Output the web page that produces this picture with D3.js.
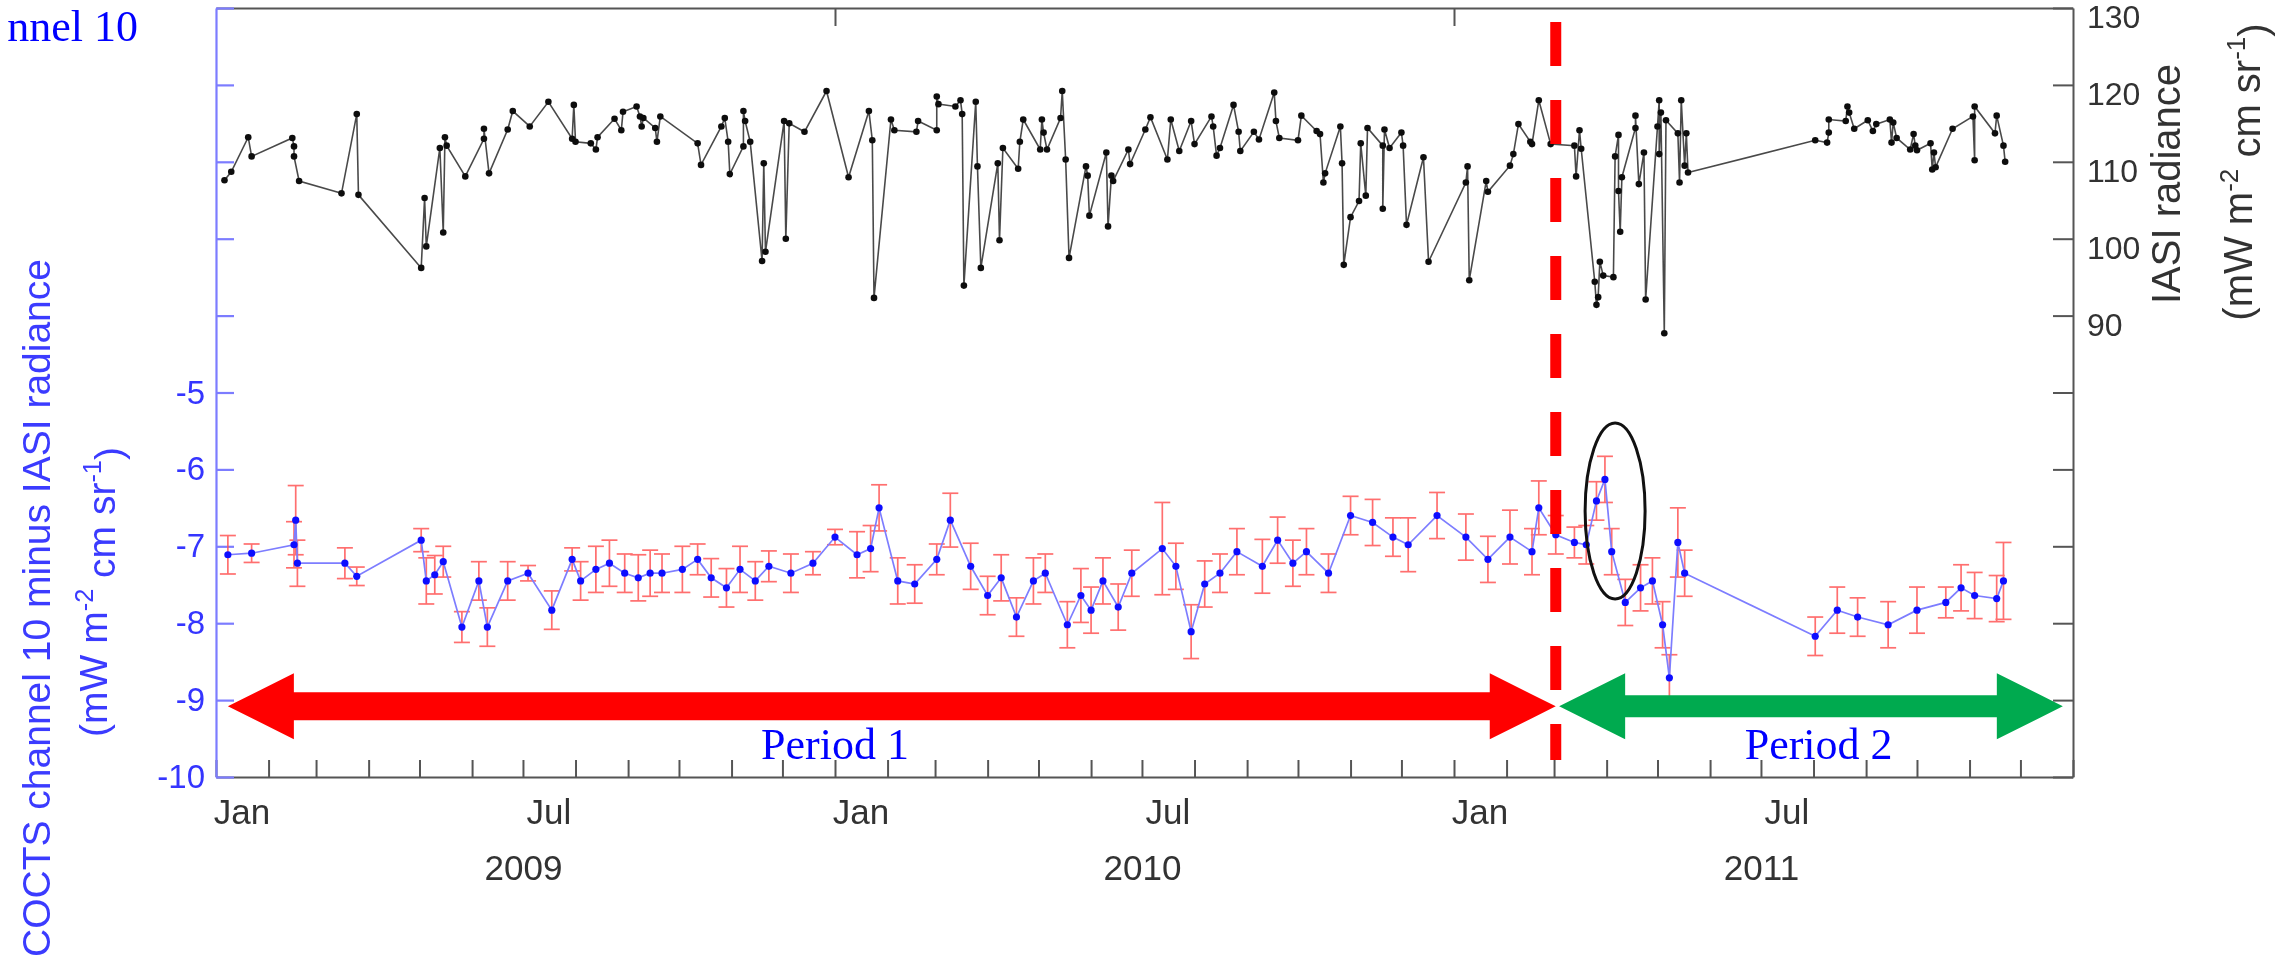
<!DOCTYPE html>
<html><head><meta charset="utf-8">
<script src="https://cdn.jsdelivr.net/npm/d3@7"></script>
<style>html,body{margin:0;padding:0;background:#fff;overflow:hidden}</style>
</head><body>
<svg id="chart" width="2277" height="968"></svg>
<script>
// IASI channel-10 equivalent radiance, days counted from 2009-01-01
const iasiDay = [5,9,19,21,45,46,46,49,74,83,84,121,123,124,132,134,135,136,147,158,158,161,172,175,185,196,210,211,212,221,224,225,235,239,240,248,250,251,252,259,260,262,284,286,298,300,302,303,
311,311,312,315,322,323,324,335,336,338,347,360,373,385,387,388,398,400,413,414,425,425,426,436,439,440,441,448,449,451,461,462,464,473,474,476,486,487,488,490,498,499,501,503,513,514,515,525,526,528,529,538,539,548,551,561,563,568,575,577,587,588,590,592,600,603,604,612,
615,624,625,627,638,640,649,651,653,654,663,664,665,669,674,675,678,679,688,688,689,692,699,700,702,712,715,737,738,739,749,750,763,765,768,775,776,780,787,801,802,804,805,813,814,815,816,818,824,825,827,827,828,829,837,837,839,842,843,850,851,851,852,854,855,862,863,864,866,867,868,
943,950,951,951,961,962,963,966,974,977,979,987,988,989,991,999,1001,1002,1003,1011,1012,1013,1014,1024,1036,1037,1037,1049,1050,1054,1055];
const iasiRad = [107.6,108.7,113.2,110.7,113.1,112.0,110.7,107.5,105.9,116.2,105.7,96.2,105.3,99.0,111.8,100.8,113.2,112.1,108.1,113.0,114.3,108.5,114.2,116.6,114.6,117.8,113.0,117.4,112.6,112.4,111.6,113.2,115.6,114.1,116.5,117.2,115.9,114.6,115.7,114.4,112.6,115.9,112.4,109.6,114.6,115.7,112.6,108.4,
112.0,116.6,115.3,112.6,97.1,109.8,98.3,115.3,100.0,115.0,113.9,119.2,108.0,116.6,112.8,92.3,115.5,114.1,113.9,115.3,114.1,118.5,117.5,117.2,118.0,116.2,93.9,117.8,109.4,96.2,109.8,99.8,111.8,109.1,112.6,115.5,111.6,115.5,113.8,111.6,115.7,119.2,110.3,97.5,109.4,108.2,103.0,111.2,101.6,108.2,107.5,111.6,109.7,114.2,115.8,110.3,115.5,111.4,115.3,112.3,115.9,114.6,110.8,111.8,117.4,113.9,111.4,113.9,
112.9,119.0,115.3,113.1,112.8,116.0,114.0,113.6,107.3,108.5,114.6,109.8,96.6,102.8,104.9,112.4,105.6,114.4,112.1,103.9,114.2,111.8,113.8,112.1,101.8,110.6,97.0,107.3,109.4,94.6,107.5,106.1,109.5,111.0,114.9,112.6,112.3,118.0,112.3,112.1,108.1,114.1,111.7,94.4,91.4,92.4,97.0,95.2,95.0,110.7,113.5,106.2,100.9,108.0,114.4,116.0,107.1,111.2,92.1,114.6,118.0,111.0,116.4,87.7,115.4,113.7,107.3,118.0,109.5,113.7,108.6,
112.8,112.5,113.8,115.5,115.3,117.2,116.4,114.3,115.4,114.0,114.9,115.5,112.5,115.1,113.1,111.6,113.6,112.1,111.5,112.4,109.0,111.2,109.3,114.3,115.9,110.2,117.2,113.7,116.0,112.1,110.0];

// COCTS minus IASI radiance difference with its uncertainty
const diffDay = [7,21,46,47,48,76,83,121,124,129,134,145,155,160,172,184,198,210,215,224,232,241,249,256,263,275,284,292,301,309,318,326,339,352,365,378,386,391,402,412,425,433,445,455,463,472,482,489,502,510,516,523,532,540,558,566,575,583,592,602,617,626,635,643,656,669,682,694,703,720,737,750,763,776,780,790,801,808,814,819,823,831,840,847,853,857,862,866,943,956,968,986,1003,1020,1029,1037,1050,1054];
const diffVal = [-7.11,-7.09,-6.98,-6.66,-7.22,-7.22,-7.39,-6.92,-7.45,-7.37,-7.20,-8.05,-7.45,-8.05,-7.45,-7.35,-7.83,-7.17,-7.45,-7.30,-7.22,-7.35,-7.41,-7.35,-7.35,-7.30,-7.17,-7.41,-7.54,-7.30,-7.45,-7.26,-7.35,-7.22,-6.88,-7.11,-7.03,-6.50,-7.45,-7.49,-7.17,-6.66,-7.26,-7.64,-7.41,-7.92,-7.45,-7.35,-8.02,-7.64,-7.83,-7.45,-7.79,-7.35,-7.03,-7.26,-8.11,-7.49,-7.35,-7.07,-7.26,-6.92,-7.22,-7.07,-7.35,-6.60,-6.69,-6.88,-6.98,-6.60,-6.88,-7.17,-6.88,-7.07,-6.50,-6.85,-6.95,-6.98,-6.41,-6.13,-7.07,-7.73,-7.54,-7.45,-8.02,-8.71,-6.95,-7.35,-8.17,-7.83,-7.92,-8.02,-7.83,-7.73,-7.54,-7.64,-7.68,-7.45];
const diffErr = [0.25,0.12,0.30,0.45,0.30,0.20,0.12,0.15,0.30,0.25,
  0.20,0.20,0.25,0.25,0.25,0.10,0.25,0.15,0.25,0.30,
  0.30,0.25,0.30,0.30,0.25,0.30,0.20,0.25,0.25,0.30,
  0.25,0.20,0.25,0.15,0.10,0.30,0.30,0.30,0.30,0.25,
  0.20,0.35,0.30,0.25,0.30,0.25,0.30,0.25,0.30,0.35,
  0.30,0.30,0.30,0.30,0.60,0.30,0.35,0.30,0.25,0.30,
  0.35,0.30,0.30,0.30,0.25,0.25,0.30,0.25,0.35,0.30,
  0.30,0.30,0.35,0.30,0.35,0.25,0.20,0.25,0.25,0.30,
  0.30,0.30,0.30,0.30,0.30,0.30,0.45,0.30,0.25,0.30,
  0.25,0.30,0.30,0.20,0.30,0.30,0.30,0.50];

const startDate = new Date(2009, 0, 1);
const endDate = new Date(2012, 0, 1);
const dividerDate = new Date(2011, 2, 2);
const monthLabels = ["Jan", "Jul"];
const yearLabels = ["2009", "2010", "2011"];
const leftTickValues = d3.range(-10, 1, 1);
const leftLabelled = [-10, -9, -8, -7, -6, -5];
const rightTickValues = d3.range(30, 131, 10);
const rightLabelled = [90, 100, 110, 120, 130];

const svg = d3.select("#chart");
const plot = {left: 216, right: 2073, top: 8, bottom: 777};

const x = d3.scaleTime().domain([startDate, endDate]).range([plot.left, plot.right]);
const yL = d3.scaleLinear().domain([-10, 0]).range([plot.bottom, plot.top]);
const yR = d3.scaleLinear().domain([30, 130]).range([plot.bottom, plot.top]);
const dayToDate = d => d3.timeDay.offset(startDate, d);

const defs = svg.append("defs");
defs.append("filter").attr("id", "soft").attr("x", "-5%").attr("y", "-5%").attr("width", "110%").attr("height", "110%")
  .append("feGaussianBlur").attr("stdDeviation", 0.7);

const fig = svg.append("g").attr("filter", "url(#soft)");
const sans = "'Liberation Sans', Arial, Helvetica, sans-serif";
const serif = "'Liberation Serif', 'Times New Roman', serif";

// bottom axis: monthly tick marks pointing inward
const months = d3.timeMonth.range(startDate, d3.timeDay.offset(endDate, 1));
const bottomTicks = fig.append("g").attr("transform", `translate(0,${plot.bottom})`)
  .call(d3.axisBottom(x).tickValues(months).tickSize(-17).tickSizeOuter(0).tickFormat(""));
bottomTicks.selectAll("path,line").attr("stroke", "#555").attr("stroke-width", 2);

// month names centred on the middle of their month
const monthMid = months.filter(m => monthLabels.includes(d3.timeFormat("%b")(m)) && m < endDate)
  .map(m => d3.timeDay.offset(m, 15));
const monthAxis = fig.append("g").attr("transform", `translate(0,${plot.bottom})`)
  .call(d3.axisBottom(x).tickValues(monthMid).tickSize(0).tickPadding(22).tickFormat(d3.timeFormat("%b")));
monthAxis.select(".domain").remove();
monthAxis.selectAll("text").attr("font-family", sans).attr("font-size", 35).attr("fill", "#333");

// year names centred on each year
const yearMid = yearLabels.map(y => new Date(+y, 6, 1));
const yearAxis = fig.append("g").attr("transform", `translate(0,${plot.bottom})`)
  .call(d3.axisBottom(x).tickValues(yearMid).tickSize(0).tickPadding(78).tickFormat(d3.timeFormat("%Y")));
yearAxis.select(".domain").remove();
yearAxis.selectAll("text").attr("font-family", sans).attr("font-size", 35).attr("fill", "#333");

// top axis with yearly ticks
const topAxis = fig.append("g").attr("transform", `translate(0,${plot.top})`)
  .call(d3.axisTop(x).tickValues([new Date(2010, 0, 1), new Date(2011, 0, 1)]).tickSize(-18).tickSizeOuter(0).tickFormat(""));
topAxis.selectAll("path,line").attr("stroke", "#555").attr("stroke-width", 2);

// right axis (IASI radiance)
const rightAxis = fig.append("g").attr("transform", `translate(${plot.right},0)`)
  .call(d3.axisRight(yR).tickValues(rightTickValues).tickSize(-20).tickSizeOuter(0).tickPadding(14)
    .tickFormat(d => rightLabelled.includes(d) ? d : ""));
rightAxis.selectAll("path,line").attr("stroke", "#555").attr("stroke-width", 2);
rightAxis.selectAll("text").attr("font-family", sans).attr("font-size", 32).attr("fill", "#333").attr("dy", "0.62em");

// left axis (radiance difference)
const leftAxis = fig.append("g").attr("transform", `translate(${plot.left},0)`)
  .call(d3.axisLeft(yL).tickValues(leftTickValues).tickSize(-18).tickSizeOuter(0).tickPadding(11)
    .tickFormat(d => leftLabelled.includes(d) ? String(d) : ""));
leftAxis.selectAll("path,line").attr("stroke", "#7c7cff").attr("stroke-width", 2.2);
leftAxis.selectAll("text").attr("font-family", sans).attr("font-size", 33).attr("fill", "#3434ff");

// axis titles
function unitLabel(sel) {
  sel.append("tspan").text("(mW m");
  sel.append("tspan").attr("dy", "-0.55em").attr("font-size", "0.65em").text("-2");
  sel.append("tspan").attr("dy", "0.55em").text(" cm sr");
  sel.append("tspan").attr("dy", "-0.55em").attr("font-size", "0.65em").text("-1");
  sel.append("tspan").attr("dy", "0.55em").text(")");
}
fig.append("text").attr("transform", "translate(50,608) rotate(-90)").attr("text-anchor", "middle")
  .attr("font-family", sans).attr("font-size", 39).attr("fill", "#3a3aff")
  .text("COCTS channel 10 minus IASI radiance");
fig.append("text").attr("transform", "translate(107,592) rotate(-90)").attr("text-anchor", "middle")
  .attr("font-family", sans).attr("font-size", 39).attr("fill", "#3a3aff").call(unitLabel);
fig.append("text").attr("transform", "translate(2180,184) rotate(-90)").attr("text-anchor", "middle")
  .attr("font-family", sans).attr("font-size", 40).attr("fill", "#333").text("IASI radiance");
fig.append("text").attr("transform", "translate(2252,172) rotate(-90)").attr("text-anchor", "middle")
  .attr("font-family", sans).attr("font-size", 40).attr("fill", "#333").call(unitLabel);

// IASI radiance series
const iasi = iasiDay.map((d, i) => ({date: dayToDate(d), v: iasiRad[i]}));
fig.append("path").datum(iasi)
  .attr("d", d3.line().x(d => x(d.date)).y(d => yR(d.v)))
  .attr("fill", "none").attr("stroke", "#4a4a4a").attr("stroke-width", 1.6);
fig.append("g").selectAll("circle").data(iasi).join("circle")
  .attr("cx", d => x(d.date)).attr("cy", d => yR(d.v)).attr("r", 3.3).attr("fill", "#111");

// difference series with error bars
const diff = diffDay.map((d, i) => ({date: dayToDate(d), v: diffVal[i], e: diffErr[i]}));
const bars = fig.append("g").attr("stroke", "#ff5555").attr("stroke-width", 1.7).attr("opacity", 0.85);
diff.forEach(d => {
  const cx = x(d.date), y0 = yL(d.v - d.e), y1 = yL(d.v + d.e);
  bars.append("line").attr("x1", cx).attr("x2", cx).attr("y1", y0).attr("y2", y1);
  bars.append("line").attr("x1", cx - 8).attr("x2", cx + 8).attr("y1", y0).attr("y2", y0);
  bars.append("line").attr("x1", cx - 8).attr("x2", cx + 8).attr("y1", y1).attr("y2", y1);
});
fig.append("path").datum(diff)
  .attr("d", d3.line().x(d => x(d.date)).y(d => yL(d.v)))
  .attr("fill", "none").attr("stroke", "#7d7dff").attr("stroke-width", 1.7);
fig.append("g").selectAll("circle").data(diff).join("circle")
  .attr("cx", d => x(d.date)).attr("cy", d => yL(d.v)).attr("r", 3.6).attr("fill", "#1010ff");

// annotations: period arrows, divider, highlighted outlier group
function arrow(x0, x1, yc, half, head, headHalf, color) {
  const dir = Math.sign(x1 - x0);
  const p = d3.path();
  p.moveTo(x0, yc);
  p.lineTo(x0 + dir * head, yc - headHalf);
  p.lineTo(x0 + dir * head, yc - half);
  p.lineTo(x1 - dir * head, yc - half);
  p.lineTo(x1 - dir * head, yc - headHalf);
  p.lineTo(x1, yc);
  p.lineTo(x1 - dir * head, yc + headHalf);
  p.lineTo(x1 - dir * head, yc + half);
  p.lineTo(x0 + dir * head, yc + half);
  p.lineTo(x0 + dir * head, yc + headHalf);
  p.closePath();
  svg.append("path").attr("fill", color).attr("d", p.toString());
}
const arrowY = yL(-9.08);
arrow(x(new Date(2009, 0, 8)), x(dividerDate), arrowY, 14, 66, 33, "#ff0000");
arrow(x(d3.timeDay.offset(dividerDate, 2)), x(new Date(2011, 11, 26)), arrowY, 11, 66, 33, "#00aa4f");

svg.append("line").attr("x1", x(dividerDate)).attr("x2", x(dividerDate))
  .attr("y1", 22).attr("y2", 760)
  .attr("stroke", "#ff0000").attr("stroke-width", 11).attr("stroke-dasharray", "44,34");

svg.append("ellipse").attr("cx", x(new Date(2011, 3, 6))).attr("cy", yL(-6.54))
  .attr("rx", 30).attr("ry", 88).attr("fill", "none").attr("stroke", "#111").attr("stroke-width", 3);

svg.append("text").attr("x", x(new Date(2010, 0, 1))).attr("y", 759).attr("text-anchor", "middle")
  .attr("font-family", serif).attr("font-size", 44).attr("fill", "#0000ff").text("Period 1");
svg.append("text").attr("x", x(new Date(2011, 7, 4))).attr("y", 759).attr("text-anchor", "middle")
  .attr("font-family", serif).attr("font-size", 44).attr("fill", "#0000ff").text("Period 2");

svg.append("text").attr("x", 138).attr("y", 41).attr("text-anchor", "end")
  .attr("font-family", serif).attr("font-size", 44).attr("fill", "#0000ff").text("nnel 10");
</script>
</body></html>
